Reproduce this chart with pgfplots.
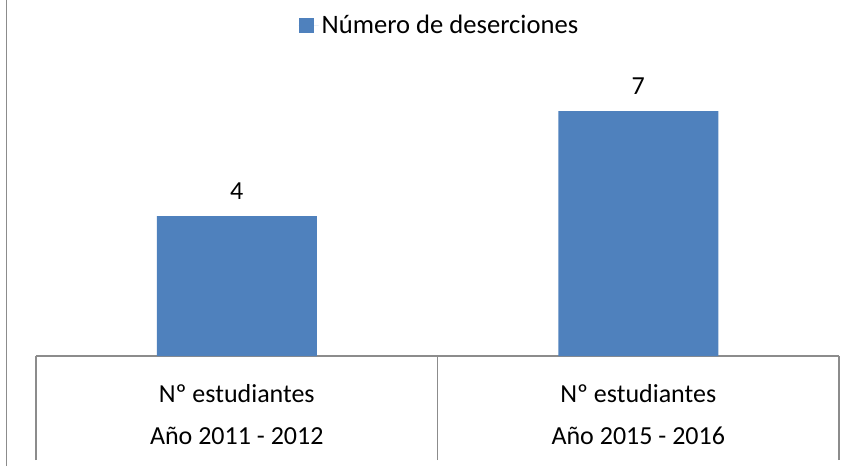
\documentclass[border=0pt]{standalone}
\usepackage{fontspec}
\setmainfont{Carlito}
\usepackage{pgfplots}
\pgfplotsset{compat=1.18}
\definecolor{barblue}{HTML}{4F81BD}
\definecolor{linegray}{HTML}{8C8C8C}
\begin{document}
\begin{tikzpicture}
\useasboundingbox (-18pt,-55pt) rectangle (409.5pt,178pt);
\draw[linegray, line width=0.9pt] (-14.75pt,-55pt) -- (-14.75pt,178pt);
\begin{axis}[
  scale only axis,
  width=401.5pt, height=148.75pt,
  xmin=-0.5, xmax=1.5, ymin=0, ymax=8.5,
  axis x line=bottom, axis y line=none,
  x axis line style={-, linegray, line width=0.8pt},
  xtick={0,1}, xticklabels={{Nº estudiantes\\Año 2011 - 2012},{Nº estudiantes\\Año 2015 - 2016}},
  major tick length=0pt,
  xticklabel style={align=center, font=\fontsize{13}{21}\selectfont, yshift=-10.5pt},
  extra x ticks={-0.5,0.5,1.5}, extra x tick labels={},
  extra x tick style={major tick length=52pt, tick align=outside, tick style={linegray, line width=0.8pt}},
  ytick=\empty,
  ybar, bar width=80pt,
  /pgf/number format/assume math mode=true,
  nodes near coords,
  every node near coord/.append style={font=\fontsize{13}{15}\selectfont, yshift=4.5pt},
  legend style={at={(0.5030,1.1100)}, anchor=center, draw=none, font=\fontsize{13.3}{15}\selectfont, legend cell align=left},
  legend image code/.code={\fill[barblue] (0pt,-3.75pt) rectangle (7.5pt,3.75pt); \path (0pt,0pt) -- (10pt,0pt);},
  legend style={/tikz/every odd column/.append style={column sep=0pt}, nodes={inner sep=1.5pt}},
]
\addplot[fill=barblue, draw=none] coordinates {(0,4) (1,7)};
\addlegendentry{Número de deserciones}
\end{axis}
\end{tikzpicture}
\end{document}
